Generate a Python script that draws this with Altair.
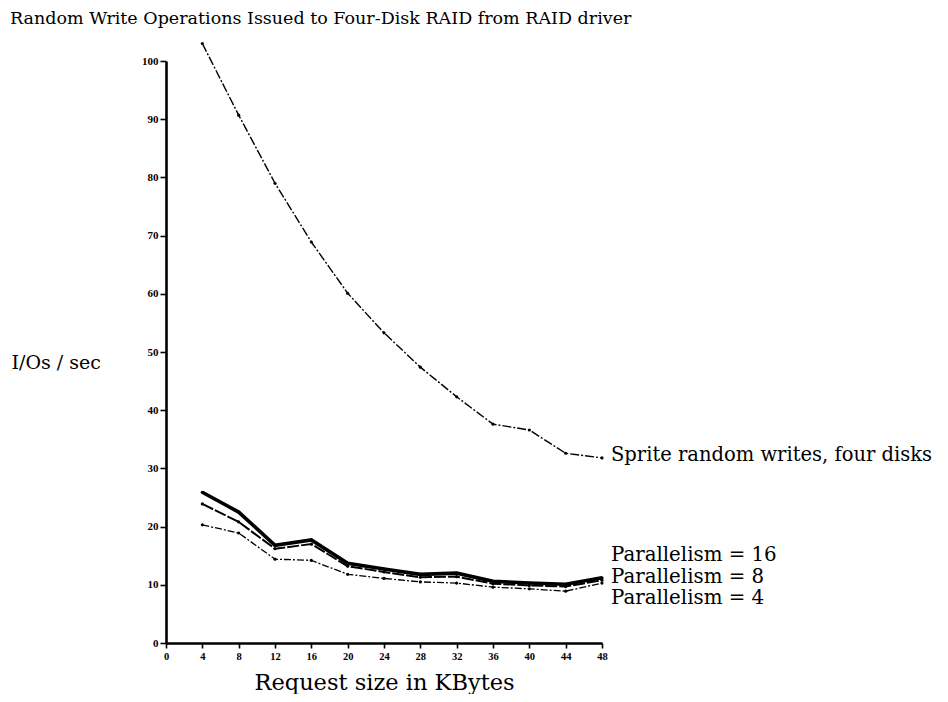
import altair as alt
import pandas as pd

# ---- data ----
request_kb = [4, 8, 12, 16, 20, 24, 28, 32, 36, 40, 44, 48]
sprite = [103.0, 90.7, 79.0, 68.9, 60.1, 53.3, 47.4, 42.3, 37.6, 36.6, 32.6, 31.8]
par16 = [25.9, 22.5, 16.8, 17.7, 13.7, 12.7, 11.8, 12.0, 10.6, 10.3, 10.1, 11.2]
par8 = [23.9, 20.8, 16.2, 17.0, 13.2, 12.2, 11.3, 11.4, 10.2, 9.9, 9.7, 10.8]
par4 = [20.3, 18.9, 14.4, 14.2, 11.8, 11.1, 10.5, 10.3, 9.6, 9.3, 8.9, 10.3]

series_names = ["Sprite", "P16", "P8", "P4"]
label_texts = ["Sprite random writes, four disks", "Parallelism = 16",
               "Parallelism = 8", "Parallelism = 4"]
label_y = [32.3, 15.1, 11.3, 7.7]
label_size = [19.5, 19.8, 19.8, 19.8]
x_ticks = [0, 4, 8, 12, 16, 20, 24, 28, 32, 36, 40, 44, 48]
y_ticks = [0, 10, 20, 30, 40, 50, 60, 70, 80, 90, 100]

title_text = "Random Write Operations Issued to Four-Disk RAID from RAID driver"

rows = []
for name, vals in zip(series_names, [sprite, par16, par8, par4]):
    for x, v in zip(request_kb, vals):
        rows.append({"series": name, "kb": x, "ios": v})
df = pd.DataFrame(rows)
labels_df = pd.DataFrame({"text": label_texts, "kb": [48] * 4, "ios": label_y,
                          "fs": label_size})

FONT = "DejaVu Serif"
TICKFONT = "Liberation Serif"

xscale = alt.Scale(domain=[0, 48], nice=False, zero=False)
yscale = alt.Scale(domain=[0, 100], nice=False)

xenc = alt.X("kb:Q", scale=xscale,
             axis=alt.Axis(values=x_ticks, title="Request size in KBytes",
                           titleFont=FONT, titleFontSize=22.5, titleFontWeight="normal",
                           titleY=46, titleBaseline="alphabetic",
                           labelFont=TICKFONT, labelFontSize=10.5, labelFontWeight="bold",
                           labelOverlap=False, labelFlush=False, labelBound=False,
                           labelPadding=3, tickSize=5, tickWidth=1.6,
                           domainWidth=2.6, domainColor="black", tickColor="black",
                           labelColor="black", titleColor="black", grid=False))
yenc = alt.Y("ios:Q", scale=yscale,
             axis=alt.Axis(values=y_ticks, title="I/Os / sec",
                           titleFont=FONT, titleFontSize=19, titleFontWeight="normal",
                           titleAngle=0, titleX=-155, titleY=301, titleAlign="left",
                           titleBaseline="middle",
                           labelFont=TICKFONT, labelFontSize=11, labelFontWeight="bold",
                           labelOverlap=False, labelFlush=False, labelBound=False,
                           labelPadding=2, tickSize=6, tickWidth=1.6,
                           domainWidth=2.6, domainColor="black", tickColor="black",
                           labelColor="black", titleColor="black", grid=False))

styles = {
    "Sprite": dict(strokeWidth=1.4, strokeDash=[9, 2, 2, 2]),
    "P16": dict(strokeWidth=3.6),
    "P8": dict(strokeWidth=2.0, strokeDash=[12, 2]),
    "P4": dict(strokeWidth=1.3, strokeDash=[7, 2, 2, 2]),
}

base = alt.Chart(df)
layers = []
for name in series_names:
    layers.append(
        base.transform_filter(alt.datum.series == name)
        .mark_line(color="black", **styles[name])
        .encode(x=xenc, y=yenc)
    )
    layers.append(
        base.transform_filter(alt.datum.series == name)
        .mark_point(filled=True, color="black", size=10, opacity=1)
        .encode(x=xenc, y=yenc)
    )

text_layer = alt.Chart(labels_df).mark_text(
    align="left", baseline="middle", dx=9, font=FONT, color="black"
).encode(x=xenc, y=yenc,
         text="text:N", size=alt.Size("fs:Q", scale=None, legend=None))

title_layer = alt.Chart(pd.DataFrame({"t": [title_text]})).mark_text(
    align="left", baseline="alphabetic", font=FONT, fontSize=17.5, color="black"
).encode(x=alt.value(-156), y=alt.value(-37), text="t:N")

chart = alt.layer(*layers, text_layer, title_layer).properties(
    width=436, height=582,
    autosize=alt.AutoSizeParams(type="none"),
    padding={"left": 158, "top": 53, "right": 338, "bottom": 51},
).configure(
    background="white",
    view=alt.ViewConfig(stroke="transparent", strokeWidth=0),
)

chart.save("out.html", embed_options={"renderer": "svg", "actions": False})
